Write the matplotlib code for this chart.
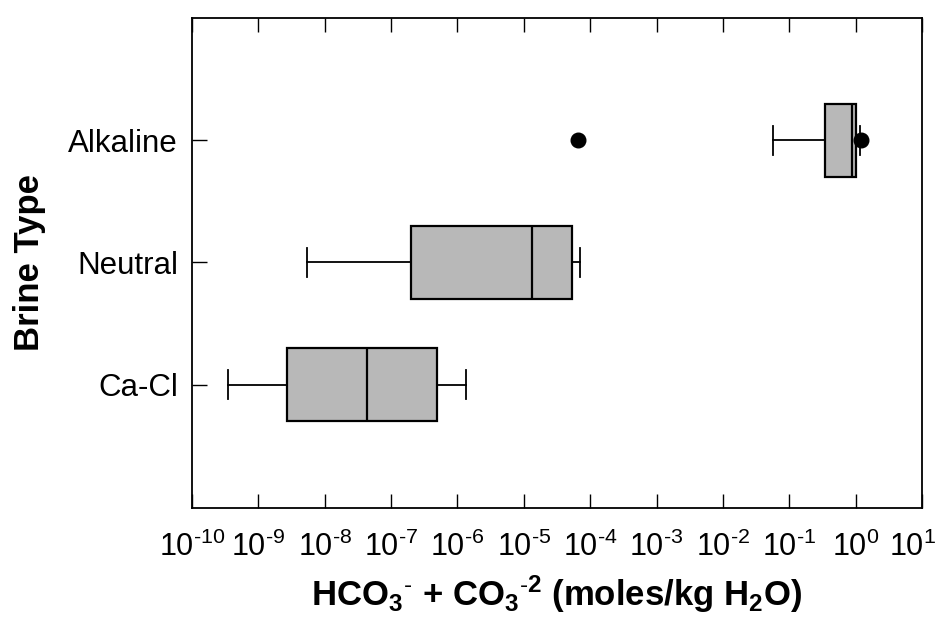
import matplotlib
matplotlib.use("Agg")
import matplotlib.pyplot as plt
import matplotlib.transforms as mtransforms

plt.rcParams['font.family'] = ['Liberation Sans', 'DejaVu Sans']
plt.rcParams['mathtext.fontset'] = 'custom'
plt.rcParams['mathtext.rm'] = 'Liberation Sans'
plt.rcParams['mathtext.it'] = 'Liberation Sans:italic'
plt.rcParams['mathtext.bf'] = 'Liberation Sans:bold'

# Data (moles/kg H2O)
categories = ['Ca-Cl', 'Neutral', 'Alkaline']
whislo = [3.5e-10, 5.4e-9, 0.057]
q1 = [2.7e-9, 2.0e-7, 0.35]
med = [4.4e-8, 1.35e-5, 0.88]
q3 = [5.0e-7, 5.4e-5, 1.0]
whishi = [1.33e-6, 7.1e-5, 1.17]
fliers = [[], [], [6.6e-5, 1.22]]

exponents = list(range(-10, 2))
tick_labels = ['10$^{%s}$' % (r'\text{-}%d' % abs(e) if e < 0 else '%d' % e) for e in exponents]

stats = []
for i, c in enumerate(categories):
    stats.append(dict(label=c, whislo=whislo[i], q1=q1[i], med=med[i],
                      q3=q3[i], whishi=whishi[i], fliers=fliers[i]))

fig = plt.figure(figsize=(9.44, 6.38), dpi=100)
ax = fig.add_axes([0.2034, 0.2038, 0.7733, 0.768])

ax.bxp(stats, positions=[1, 2, 3], vert=False, widths=0.6, patch_artist=True,
       capwidths=0.24,
       boxprops=dict(facecolor='#b8b8b8', edgecolor='black', linewidth=1.6),
       medianprops=dict(color='black', linewidth=1.6),
       whiskerprops=dict(color='black', linewidth=1.3),
       capprops=dict(color='black', linewidth=1.3),
       flierprops=dict(marker='o', markerfacecolor='black', markeredgecolor='black',
                       markersize=10.5, linestyle='none'))

ax.set_xscale('log')
ax.set_xlim(1e-10, 1e1)
ax.set_ylim(-0.01, 4.0)
ax.set_xticks([10.0 ** e for e in exponents])
ax.set_xticklabels(tick_labels)
ax.xaxis.set_minor_locator(matplotlib.ticker.NullLocator())
ax.set_yticks([1, 2, 3])
ax.set_yticklabels(categories)

ax.tick_params(axis='x', which='major', direction='in', top=True, bottom=True,
               length=10, width=1.0, labelsize=22, pad=17)
ax.tick_params(axis='y', which='major', direction='in', left=True, right=False,
               length=11, width=1.0, labelsize=22.5, pad=10)
for s in ax.spines.values():
    s.set_linewidth(1.3)

# nudge the last tick label left so it stays inside the figure
last = ax.get_xticklabels()[-1]
last.set_transform(last.get_transform() +
                   mtransforms.ScaledTranslation(-9 / 100, 0, fig.dpi_scale_trans))

ax.set_xlabel(r'HCO$_{\mathbf{3}}$$^{\mathbf{\text{-}}}$ + CO$_{\mathbf{3}}$$^{\mathbf{\text{-}2}}$ (moles/kg H$_{\mathbf{2}}$O)',
              fontsize=25, fontweight='bold', labelpad=8)
ax.set_ylabel('Brine Type', fontsize=25, fontweight='bold', labelpad=10)
ax.yaxis.set_label_coords(-0.2, 0.5)

fig.savefig('out.png', dpi=100)
